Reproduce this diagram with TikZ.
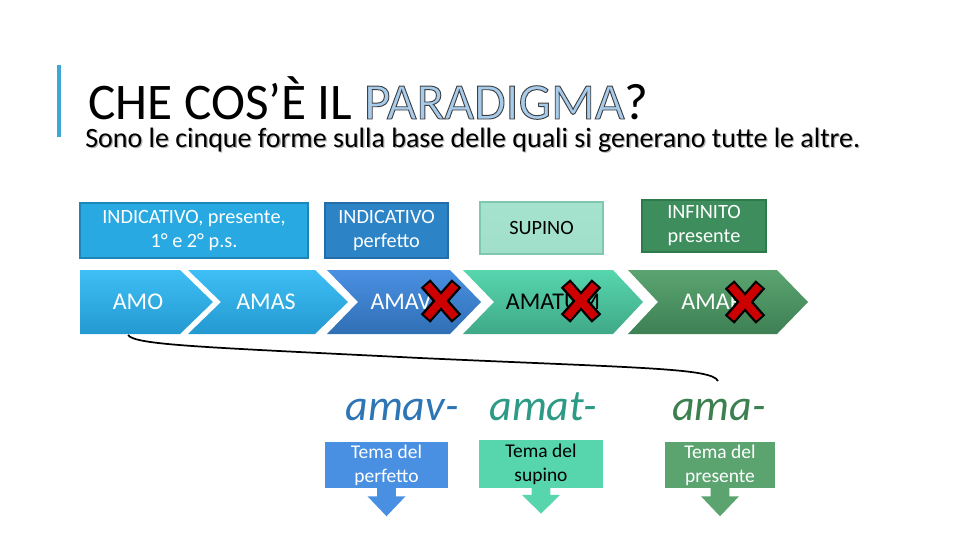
\documentclass[tikz,border=0pt]{standalone}
\usepackage{fontspec}
\setmainfont{Carlito}
\usetikzlibrary{calc}

\definecolor{barblue}{HTML}{3FA7D6}
\definecolor{parafill}{HTML}{A7CBEA}
\definecolor{indfill}{HTML}{28A9E1}
\definecolor{indline}{HTML}{1C86B8}
\definecolor{perffill}{HTML}{2C84C7}
\definecolor{perfline}{HTML}{236DA8}
\definecolor{supfill}{HTML}{A6E3CF}
\definecolor{supline}{HTML}{7FC8AF}
\definecolor{inffill}{HTML}{3E8E5D}
\definecolor{infline}{HTML}{2E7A4B}
\definecolor{skyA}{HTML}{3EBFF5}
\definecolor{skyB}{HTML}{2399D0}
\definecolor{blueA}{HTML}{4A90E2}
\definecolor{blueB}{HTML}{2F6FB5}
\definecolor{mintA}{HTML}{57D6AE}
\definecolor{mintB}{HTML}{3FA887}
\definecolor{greenA}{HTML}{5BA470}
\definecolor{greenB}{HTML}{3D8054}
\definecolor{stemblue}{HTML}{2E75B6}
\definecolor{stemteal}{HTML}{2C9A84}
\definecolor{stemgreen}{HTML}{3D8050}
\definecolor{crossred}{HTML}{CC0000}

% outlined letters (fill and stroke)
\newcommand\outlined[1]{{\color{parafill}%
  \special{pdf:literal direct 0.25 0.25 0.25 RG 0.7 w 2 Tr}#1%
  \special{pdf:literal direct 0 Tr}}}

\begin{document}
\begin{tikzpicture}[x=0.75pt, y=-0.75pt,
    % Define the styles
    topbox/.style={draw, line width=0.9pt, inner sep=0pt, align=center,
        font=\fontsize{15.2}{18}\selectfont},
    chev/.style={shading=axis, shading angle=45},
    formtext/.style={font=\fontsize{18}{20}\selectfont, inner sep=0pt},
    stemtext/.style={font=\fontsize{33}{40}\selectfont\itshape, anchor=base, inner sep=0pt},
    temabox/.style={inner sep=0pt, align=center, text=white,
        font=\fontsize{14.6}{18}\selectfont},
    crossback/.style={line width=9.5pt, draw=black},
    crossfront/.style={line width=6pt, draw=crossred}
]
\useasboundingbox (0,0) rectangle (960,540);

% Title and subtitle
\fill[barblue] (57,65) rectangle (61,137);
\node[anchor=base west, inner sep=0pt, text depth=0pt, font=\fontsize{38.5}{42}\selectfont] (title) at (88,119)
    {CHE COS’È IL \outlined{PARADIGMA}?};
\node[anchor=base west, inner sep=0pt, text=black!30, font=\fontsize{21}{24}\selectfont] (subShadow) at (86.3,148.3)
    {Sono le cinque forme sulla base delle quali si generano tutte le altre.};
\node[anchor=base west, inner sep=0pt, font=\fontsize{21}{24}\selectfont] (sub) at (85,147)
    {Sono le cinque forme sulla base delle quali si generano tutte le altre.};

% Boxes with the names of the forms
\node[topbox, fill=indfill, draw=indline, text=white, minimum width=171pt, minimum height=41.25pt] (indPres) at (194,230.5)
    {INDICATIVO, presente,\\ 1° e 2° p.s.};
\node[topbox, fill=perffill, draw=perfline, text=white, minimum width=92.25pt, minimum height=41.25pt] (indPerf) at (386.5,230.5)
    {INDICATIVO\\ perfetto};
\node[topbox, top color=supfill, bottom color=supfill!85!supline, draw=supline, minimum width=92.25pt, minimum height=39pt] (supino) at (541.5,228)
    {SUPINO};
\node[topbox, fill=inffill, draw=infline, text=white, minimum width=93pt, minimum height=39pt] (infPres) at (704,226)
    {INFINITO\\ presente};

% The five chevrons
\shade[chev, top color=skyA, middle color=skyA, bottom color=skyB]
    (80,270) -- (180,270) -- (213,302) -- (180,334) -- (80,334) -- cycle;
\shade[chev, top color=skyA, middle color=skyA, bottom color=skyB]
    (188,270) -- (315,270) -- (348,302) -- (315,334) -- (188,334) -- (221,302) -- cycle;
\shade[chev, top color=blueA, middle color=blueA, bottom color=blueB]
    (327,270) -- (450,270) -- (481,302) -- (450,334) -- (327,334) -- (358,302) -- cycle;
\shade[chev, top color=mintA, middle color=mintA, bottom color=mintB]
    (463,270) -- (613,270) -- (643,302) -- (613,334) -- (463,334) -- (494,302) -- cycle;
\shade[chev, top color=greenA, middle color=greenA, bottom color=greenB]
    (628,270) -- (777,270) -- (808,302) -- (777,334) -- (628,334) -- (658,302) -- cycle;

% Forms
\node[formtext, text=white] (amo) at (138,302) {AMO};
\node[formtext, text=white] (amas) at (266,302) {AMAS};
\node[formtext, text=white] (amavi) at (404,302) {AMAVI};
\node[formtext, text=black] (amatum) at (553,302) {AMATUM};
\node[formtext, text=white] (amare) at (718,302) {AMARE};

% Red crosses
\foreach \cx/\cy in {441/301, 581/301, 745/302} {
    \draw[crossback] (\cx-15.5,\cy-17.5) -- (\cx+15.5,\cy+17.5);
    \draw[crossback] (\cx+15.5,\cy-17.5) -- (\cx-15.5,\cy+17.5);
    \draw[crossfront] (\cx-14,\cy-16) -- (\cx+14,\cy+16);
    \draw[crossfront] (\cx+14,\cy-16) -- (\cx-14,\cy+16);
}

% Bracket under the first forms
\coordinate (amoFoot) at (128,335);
\coordinate (braceEnd) at (718,381);
\draw[line width=1.3pt] (amoFoot) .. controls (135,345) and (200,347) .. (420,358)
    .. controls (640,368) and (712,368) .. (braceEnd);

% Stems
\node[stemtext, text=stemblue] (amav) at (402,420) {amav-};
\node[stemtext, text=stemteal] (amat) at (543,420) {amat-};
\node[stemtext, text=stemgreen] (ama) at (719,420) {ama-};

% Boxes of the stems with their arrows
\node[temabox, fill=blueA, minimum width=92.25pt, minimum height=34.5pt] (temaPerf) at (386.5,465)
    {Tema del\\ perfetto};
\node[temabox, fill=mintA, text=black, minimum width=93pt, minimum height=36pt] (temaSup) at (541,464)
    {Tema del\\ supino};
\node[temabox, fill=greenA, minimum width=82.5pt, minimum height=34.5pt] (temaPres) at (720,465)
    {Tema del\\ presente};

\fill[blueA] ($(temaPerf.south)+(-7.1pt,0.5pt)$) -- ++(0,-6.5pt) -- ++(-7.15pt,0) -- ++(14.25pt,-15pt)
    -- ++(14.25pt,15pt) -- ++(-7.15pt,0) -- ++(0,6.5pt) -- cycle;
\fill[mintA] ($(temaSup.south)+(-7.1pt,0.5pt)$) -- ++(0,-5.5pt) -- ++(-7.15pt,0) -- ++(14.25pt,-14pt)
    -- ++(14.25pt,14pt) -- ++(-7.15pt,0) -- ++(0,5.5pt) -- cycle;
\fill[greenA] ($(temaPres.south)+(-7.1pt,0.5pt)$) -- ++(0,-6.5pt) -- ++(-7.15pt,0) -- ++(14.25pt,-15pt)
    -- ++(14.25pt,15pt) -- ++(-7.15pt,0) -- ++(0,6.5pt) -- cycle;

\end{tikzpicture}
\end{document}
